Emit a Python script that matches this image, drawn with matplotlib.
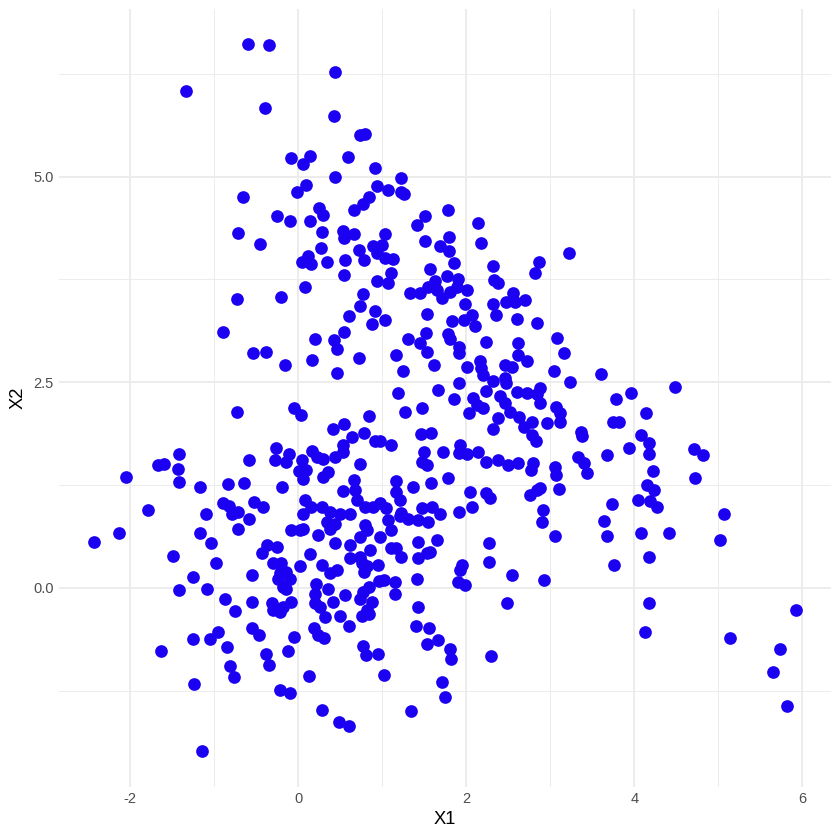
import matplotlib
matplotlib.use("Agg")
import matplotlib.pyplot as plt
from matplotlib.ticker import FixedLocator

# points, (X1, X2)
x1 = [
    -0.59, -0.35, -1.33, -0.39, -0.08, 0.14, 0.06, 0.09, -0.01, -0.66, 0.25, 0.30,
    -0.25, -0.09, 0.14, -0.71, 0.28, -0.45, 0.27, 0.12, 0.05, 0.16, 0.34,
    0.44, 0.43, 0.74, 0.80, 0.60, 0.91, 0.44, 1.23, 0.94, 1.07, 1.23, 1.26, 0.85,
    0.77, 0.67, 1.51, 1.78, 1.41, 2.14, 0.53, 0.55, 0.67, 1.03, 1.51, 1.80, 2.18,
    0.89, 1.00, 0.73, 1.69, 1.80, 0.94, 1.03, 1.13, 0.56, 0.79, 1.86, 2.32, 2.87,
    3.22, 1.57,
    0.08, -0.73, -0.20, -0.89, 0.20, -0.54, -0.38, -0.16, 0.17, -0.73, -0.05, 0.03,
    -1.41, -1.66, -1.59, -1.43, -2.05, -1.41, -1.16, -0.83, -0.64, -0.58, -0.26,
    -0.27, -0.11, -0.14, 0.17, 0.23, 0.30, 0.05, 0.01, 0.09, 0.06, 0.30, -0.19,
    -1.79, -1.10, -0.89, -0.82, -0.78, -0.71, -0.52, -0.42, 0.08, 0.16, 0.06, 0.28,
    0.55, 1.11, 0.94, 1.07, 1.77, 1.90, 1.63, 2.33, 2.38, 2.82, 1.33, 1.45, 1.55,
    1.65, 1.71, 1.81, 1.89, 2.01, 1.99, 0.77, 0.74, 0.61, 0.92, 0.88, 1.03, 1.53,
    1.83, 1.97, 2.07, 2.11, 2.32, 2.36, 2.48, 2.56, 2.58, 2.70, 2.60, 2.84, 0.55,
    0.43, 0.46, 0.72, 0.46, 1.31, 1.52, 1.45, 1.53, 1.17, 1.25, 1.62, 1.79, 1.81,
    1.91, 1.91, 2.24, 2.01, 2.16, 2.18, 2.20, 2.62, 2.62, 2.73, 2.46, 2.54, 3.08,
    3.16, 3.04, 3.24, 1.91, 1.66, 1.19, 1.85, 2.32, 2.46, 2.48, 2.24, 2.08, 2.13,
    2.20, 2.03, 2.60, 2.72, 2.40, 2.46, 2.88, 2.84, 2.88, 2.52, 2.38, 2.32, 2.63,
    2.69, 2.78, 3.07, 3.12, 3.12, 2.96, 2.78, 2.83, 1.27, 1.47, 0.84, 0.55, 0.42,
    0.64, 0.78, 0.92, 0.97, 1.11, 1.46, 1.58, 0.53, 0.54, 0.44, 1.50, 1.48, 1.53,
    1.73, 1.93, 1.91, 2.01, 2.14, 2.24, 2.38, 2.50, 2.62, 2.80, 2.77, 3.06, 3.07,
    0.74, 0.36, 0.67, 0.68, 0.70, 0.54, 1.17, 1.17, 1.21, 1.37, 1.58, 1.79, 2.05,
    2.07, 2.24, 2.28, 2.76, 2.84, 2.88, 3.11, 2.92, 0.38, 0.50, 0.62, 0.80, 0.89,
    0.97, 1.05, 1.23, 1.47, 1.59, 1.69, 1.92,
    3.60, 4.49, 3.96, 3.78, 4.14, 3.75, 3.82, 3.37, 3.38, 4.08, 4.18, 3.94, 3.68,
    4.17, 4.71, 4.82, 3.33, 3.40, 3.44, 4.22, 4.72, 4.15, 4.24, 4.05, 4.19, 4.27,
    3.73, 5.07,
    -0.58, -2.13, -2.43, -1.16, -1.03, -0.71, -0.08, 0.02, 0.06, 0.24, -0.37, -0.25,
    -0.43, 0.14, 0.28, 0.02, -0.30, -0.20, -0.22, -0.14, -0.24, -0.10, -0.18, -0.14,
    -0.55, 0.22, 0.20, 0.20, 0.26, 0.32, -0.31, -0.30, -0.18, -0.08, -0.22, -0.55,
    -1.49, -0.98, -1.25, -1.41, -1.08, -0.87, -0.75, -1.25, -1.05, -0.95, -0.85,
    -1.63, -0.55, -0.46, -0.05, 0.19, 0.24, 0.31, -0.12, -0.38, -0.34, -0.81, -0.76,
    0.13, -1.24, -0.22, -0.10, 0.29, -1.14,
    0.34, 0.44, 0.38, 0.44, 0.80, 0.82, 0.74, 0.97, 1.07, 1.11, 1.21, 1.31, 1.43,
    1.55, 0.62, 0.86, 1.11, 1.17, 1.23, 1.43, 1.65, 1.57, 1.53, 1.43, 0.62, 0.74,
    0.76, 0.82, 0.78, 0.95, 0.38, 0.46, 1.41, 0.96, 1.02, 1.15, 0.84, 0.77, 0.74,
    0.88, 1.15, 0.36, 0.56, 0.42, 0.82, 0.76, 0.84, 0.50, 1.43, 2.27, 2.27, 1.95,
    1.93, 1.90, 1.99, 2.55, 2.93, 2.90, 3.06, 2.49, 1.40, 1.56, 1.54, 1.67, 1.81,
    1.82, 2.30, 0.77, 0.81, 0.95, 1.02, 1.71, 1.75, 1.34, 0.49, 0.61, 0.61,
    3.64, 3.68, 4.08, 4.41, 5.02, 4.17, 3.76, 4.18, 4.13, 5.14, 5.92, 5.73, 5.65,
    5.82,
]
x2 = [
    6.61, 6.60, 6.04, 5.83, 5.22, 5.25, 5.15, 4.90, 4.81, 4.75, 4.62, 4.53,
    4.52, 4.46, 4.46, 4.31, 4.33, 4.18, 4.13, 4.03, 3.96, 3.94, 3.96,
    6.27, 5.73, 5.50, 5.52, 5.24, 5.10, 5.00, 4.98, 4.88, 4.84, 4.81, 4.79, 4.75,
    4.66, 4.59, 4.52, 4.59, 4.41, 4.44, 4.34, 4.25, 4.30, 4.30, 4.22, 4.26, 4.19,
    4.15, 4.17, 4.11, 4.15, 4.10, 4.07, 4.01, 4.00, 3.98, 3.99, 3.95, 3.91, 3.96,
    4.07, 3.87,
    3.66, 3.51, 3.53, 3.11, 3.02, 2.86, 2.87, 2.71, 2.77, 2.14, 2.19, 2.10,
    1.63, 1.49, 1.50, 1.45, 1.35, 1.29, 1.22, 1.26, 1.27, 1.55, 1.70,
    1.55, 1.63, 1.53, 1.66, 1.59, 1.56, 1.55, 1.42, 1.43, 1.32, 1.35, 1.22,
    0.95, 0.90, 1.03, 0.99, 0.90, 0.92, 1.04, 0.98, 1.07, 0.98, 0.90, 0.98,
    3.80, 3.83, 3.73, 3.71, 3.79, 3.75, 3.73, 3.74, 3.70, 3.83, 3.58, 3.58, 3.66,
    3.62, 3.52, 3.60, 3.66, 3.62, 3.45, 3.57, 3.42, 3.30, 3.36, 3.21, 3.25, 3.33,
    3.24, 3.26, 3.32, 3.18, 3.45, 3.32, 3.48, 3.58, 3.48, 3.50, 3.27, 3.22, 3.11,
    3.01, 2.90, 2.79, 2.61, 3.02, 3.10, 2.98, 2.87, 2.83, 2.64, 2.71, 3.09, 3.02,
    2.93, 2.85, 2.99, 2.69, 2.76, 2.67, 2.59, 2.98, 2.83, 2.76, 2.71, 2.69, 3.04,
    2.85, 2.64, 2.50, 2.49, 2.41, 2.37, 2.29, 2.51, 2.55, 2.49, 2.39, 2.31, 2.22,
    2.18, 2.12, 2.38, 2.37, 2.33, 2.25, 2.43, 2.35, 2.25, 2.14, 2.06, 1.93, 2.08,
    1.96, 2.02, 2.20, 2.12, 2.02, 2.00, 1.86, 1.78, 2.14, 2.18, 2.09, 1.99, 1.93,
    1.83, 1.88, 1.79, 1.78, 1.74, 1.87, 1.88, 1.73, 1.65, 1.59, 1.65, 1.53, 1.49,
    1.65, 1.73, 1.64, 1.63, 1.65, 1.53, 1.55, 1.49, 1.52, 1.52, 1.43, 1.47, 1.37,
    1.50, 1.41, 1.31, 1.19, 1.07, 1.18, 1.30, 1.17, 1.07, 1.23, 1.28, 1.34, 1.17,
    0.98, 1.15, 1.09, 1.13, 1.19, 1.21, 1.20, 0.95, 0.92, 0.90, 0.90, 0.98, 0.98,
    1.03, 0.97, 0.91, 0.97, 0.98, 0.90, 0.92,
    2.60, 2.44, 2.37, 2.30, 2.13, 2.01, 2.01, 1.90, 1.84, 1.86, 1.76, 1.70, 1.62,
    1.63, 1.69, 1.61, 1.59, 1.52, 1.40, 1.42, 1.34, 1.25, 1.19, 1.07, 1.05, 0.98,
    1.02, 0.90,
    0.84, 0.67, 0.56, 0.67, 0.55, 0.71, 0.70, 0.70, 0.72, 0.64, 0.52, 0.50,
    0.42, 0.41, 0.28, 0.27, 0.30, 0.30, 0.18, 0.19, 0.11, 0.11, 0.01, -0.01,
    0.15, 0.05, -0.07, -0.19, -0.23, -0.35, -0.19, -0.27, -0.23, -0.17, -0.29, -0.17,
    0.39, 0.30, 0.13, -0.03, -0.01, -0.14, -0.28, -0.62, -0.62, -0.54, -0.72,
    -0.77, -0.49, -0.58, -0.60, -0.49, -0.58, -0.61, -0.77, -0.80, -0.94, -0.95, -1.08,
    -1.07, -1.17, -1.24, -1.28, -1.48, -1.99,
    0.80, 0.78, 0.71, 0.54, 0.76, 0.70, 0.62, 0.62, 0.82, 0.70, 0.87, 0.84, 0.82,
    0.80, 0.52, 0.46, 0.48, 0.48, 0.38, 0.56, 0.58, 0.44, 0.42, 0.36, 0.36, 0.38,
    0.30, 0.26, 0.19, 0.28, 0.18, 0.22, 0.11, 0.08, 0.09, 0.07, 0.01, -0.05, -0.14,
    -0.17, -0.08, -0.02, -0.09, -0.17, -0.27, -0.34, -0.32, -0.34, -0.23, 0.55, 0.31, 0.28,
    0.22, 0.07, 0.03, 0.16, 0.09, 0.80, 0.63, -0.19, -0.47, -0.49, -0.68, -0.64, -0.74,
    -0.86, -0.83, -0.71, -0.82, -0.81, -1.06, -1.14, -1.33, -1.50, -1.63, -1.68, -0.47,
    0.81, 0.63, 0.67, 0.66, 0.58, 0.37, 0.28, -0.19, -0.54, -0.61, -0.27, -0.75, -1.02,
    -1.44,
]

x_ticks = [-2, 0, 2, 4, 6]
x_labels = ["-2", "0", "2", "4", "6"]
x_minor = [-1, 1, 3, 5]
y_ticks = [0.0, 2.5, 5.0]
y_labels = ["0.0", "2.5", "5.0"]
y_minor = [-1.25, 1.25, 3.75, 6.25]

plt.rcParams['font.family'] = ['Liberation Sans', 'DejaVu Sans']

fig = plt.figure(figsize=(7, 7), dpi=120)
ax = fig.add_axes([0.0698, 0.0633, 0.9192, 0.9263])

ax.scatter(x1, x2, s=58, color="#1c00f2", linewidths=0, zorder=3)

# ggplot-style expansion of 5% on each side
xr = max(x1) - min(x1)
yr = max(x2) - min(x2)
ax.set_xlim(min(x1) - 0.05 * xr, max(x1) + 0.05 * xr)
ax.set_ylim(min(x2) - 0.05 * yr, max(x2) + 0.05 * yr)

ax.xaxis.set_major_locator(FixedLocator(x_ticks))
ax.xaxis.set_minor_locator(FixedLocator(x_minor))
ax.yaxis.set_major_locator(FixedLocator(y_ticks))
ax.yaxis.set_minor_locator(FixedLocator(y_minor))
ax.set_xticklabels(x_labels)
ax.set_yticklabels(y_labels)

ax.grid(which="major", color="#ebebeb", linewidth=1.1, zorder=0)
ax.grid(which="minor", color="#ebebeb", linewidth=0.55, zorder=0)
ax.set_axisbelow(True)
for s in ax.spines.values():
    s.set_visible(False)
ax.tick_params(which="both", length=0, labelsize=8.8, labelcolor="#4d4d4d", pad=3)

ax.set_xlabel("X1", fontsize=11, labelpad=3)
ax.set_ylabel("X2", fontsize=11, labelpad=4)

fig.savefig("out.png", dpi=120, facecolor="white")
